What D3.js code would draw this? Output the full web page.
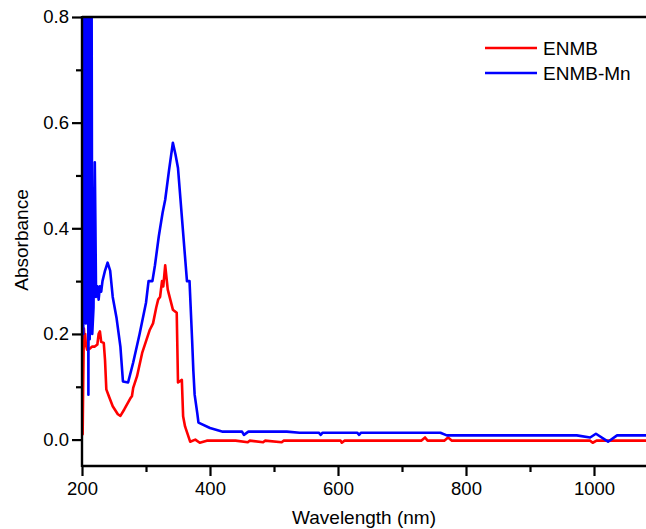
<!DOCTYPE html>
<html>
<head>
<meta charset="utf-8">
<script src="https://cdn.jsdelivr.net/npm/d3@7"></script>
<style>
  body { margin: 0; background: #fff; }
  svg { display: block; font-family: "Liberation Sans", Arial, sans-serif; }
</style>
</head>
<body>
<div id="chart"></div>
<script>
// wavelength (nm) / absorbance pairs
const enmbWl = [200, 201, 202, 203, 204, 205, 206, 208, 212, 216, 220, 224, 226, 228, 230, 234, 236, 238,
  242, 248, 256, 260, 266, 276, 278, 280, 286, 294, 306, 311, 316, 319, 322, 325, 327, 330, 334, 342, 348,
  350, 356, 358, 361, 369, 377, 384, 395, 440, 459, 462, 483, 486, 512, 515, 540, 604, 606, 610, 730, 736,
  740, 766, 772, 778, 994, 998, 1004, 1100];
const enmbAbs = [0.038, 0.01, 0.12, 0.21, 0.19, 0.2, 0.18, 0.17, 0.172, 0.176, 0.176, 0.18, 0.2, 0.205, 0.185,
  0.183, 0.15, 0.095, 0.082, 0.063, 0.048, 0.045, 0.057, 0.079, 0.082, 0.098, 0.12, 0.164, 0.208, 0.22, 0.25,
  0.265, 0.27, 0.3, 0.29, 0.33, 0.284, 0.246, 0.24, 0.108, 0.113, 0.044, 0.025, -0.004, 0.0, -0.006, -0.002,
  -0.002, -0.005, -0.002, -0.005, -0.002, -0.005, -0.002, -0.002, -0.002, -0.006, -0.002, -0.002, 0.004,
  -0.002, -0.002, 0.004, -0.002, -0.002, -0.006, -0.002, -0.002];

const mnWl = [200, 201, 202, 203, 204, 205, 206, 207, 208, 209, 210, 211, 212, 213, 214, 215, 216, 218, 220,
  221, 222, 224, 226, 228, 230, 232, 236, 240, 244, 248, 254, 260, 264, 272, 280, 290, 300, 304, 310, 314,
  320, 322, 326, 330, 336, 342, 346, 350, 364, 368, 372, 374, 376, 380, 382, 400, 420, 450, 453, 460, 520,
  540, 570, 573, 576, 630, 633, 636, 760, 770, 973, 994, 1003, 1022, 1036, 1100];
const mnAbs = [0.19, 0.85, 0.2, 0.85, 0.28, 0.85, 0.22, 0.85, 0.35, 0.85, 0.085, 0.85, 0.19, 0.85, 0.3, 0.85,
  0.2, 0.25, 0.525, 0.4, 0.27, 0.29, 0.265, 0.29, 0.28, 0.3, 0.32, 0.335, 0.32, 0.27, 0.23, 0.176, 0.11,
  0.108, 0.146, 0.2, 0.259, 0.3, 0.3, 0.33, 0.385, 0.4, 0.43, 0.454, 0.51, 0.562, 0.54, 0.514, 0.3, 0.3,
  0.19, 0.13, 0.085, 0.051, 0.032, 0.022, 0.015, 0.015, 0.009, 0.015, 0.015, 0.013, 0.013, 0.009, 0.013,
  0.013, 0.009, 0.013, 0.013, 0.008, 0.008, 0.004, 0.011, -0.004, 0.008, 0.008];

const seriesNames = ["ENMB", "ENMB-Mn"];
const seriesColors = ["#ff0000", "#0000ff"];
const xTicks = [200, 400, 600, 800, 1000];
const yTicks = [0.0, 0.2, 0.4, 0.6, 0.8];

const width = 646, height = 529;
const margin = { top: 17, left: 82, bottom: 466 };

const x = d3.scaleLinear().domain([200, 1100]).range([margin.left, margin.left + 900 * 0.64]);
const y = d3.scaleLinear().domain([-0.05, 0.8]).range([margin.bottom, margin.top]);

const series = [
  enmbWl.map((w, i) => ({ w, a: enmbAbs[i] })),
  mnWl.map((w, i) => ({ w, a: mnAbs[i] }))
];

const svg = d3.select("#chart").append("svg")
  .attr("width", width).attr("height", height);

svg.append("clipPath").attr("id", "plotclip")
  .append("rect")
  .attr("x", margin.left).attr("y", margin.top)
  .attr("width", width - margin.left).attr("height", margin.bottom - margin.top);

const line = d3.line().x(d => x(d.w)).y(d => y(d.a));

svg.append("g").attr("clip-path", "url(#plotclip)")
  .selectAll("path").data(series).join("path")
  .attr("fill", "none")
  .attr("stroke", (d, i) => seriesColors[i])
  .attr("stroke-width", 2.6)
  .attr("stroke-linejoin", "round")
  .attr("d", line);

// axes
function styleAxis(g) {
  g.select(".domain").remove();
  g.selectAll(".tick line").attr("stroke", "#000").attr("stroke-width", 2.2);
  g.selectAll(".tick text").attr("fill", "#000").style("font-size", "18.5px");
}

const gx = svg.append("g").attr("transform", `translate(0,${margin.bottom})`)
  .call(d3.axisBottom(x).tickValues(xTicks).tickFormat(d3.format("d")).tickSize(10).tickPadding(6))
  .call(styleAxis);
svg.append("g").attr("transform", `translate(0,${margin.bottom})`)
  .call(d3.axisBottom(x).tickValues([300, 500, 700, 900, 1100]).tickFormat("").tickSize(6))
  .call(styleAxis);

svg.append("g").attr("transform", `translate(${margin.left},0)`)
  .call(d3.axisLeft(y).tickValues(yTicks).tickFormat(d3.format(".1f")).tickSize(10).tickPadding(3))
  .call(styleAxis);
svg.append("g").attr("transform", `translate(${margin.left},0)`)
  .call(d3.axisLeft(y).tickValues([0.1, 0.3, 0.5, 0.7]).tickFormat("").tickSize(6))
  .call(styleAxis);

// frame lines
svg.append("line").attr("x1", margin.left).attr("x2", margin.left)
  .attr("y1", margin.top - 1).attr("y2", margin.bottom + 1)
  .attr("stroke", "#000").attr("stroke-width", 2.4);
svg.append("line").attr("x1", margin.left).attr("x2", width)
  .attr("y1", margin.bottom).attr("y2", margin.bottom)
  .attr("stroke", "#000").attr("stroke-width", 2.4);
svg.append("line").attr("x1", margin.left).attr("x2", width)
  .attr("y1", margin.top).attr("y2", margin.top)
  .attr("stroke", "#000").attr("stroke-width", 2.4);

// titles
svg.append("text")
  .attr("x", (margin.left + width) / 2).attr("y", 524)
  .attr("text-anchor", "middle").style("font-size", "19px")
  .text("Wavelength (nm)");
svg.append("text")
  .attr("transform", `translate(28,240) rotate(-90)`)
  .attr("text-anchor", "middle").style("font-size", "19px")
  .text("Absorbance");

// legend
const legend = svg.append("g").selectAll("g").data(seriesNames).join("g")
  .attr("transform", (d, i) => `translate(485,${48 + i * 25})`);
legend.append("line").attr("x1", 0).attr("x2", 52)
  .attr("stroke", (d, i) => seriesColors[i]).attr("stroke-width", 2.6);
legend.append("text").attr("x", 58).attr("y", 7)
  .style("font-size", "19px").text(d => d);
</script>
</body>
</html>
